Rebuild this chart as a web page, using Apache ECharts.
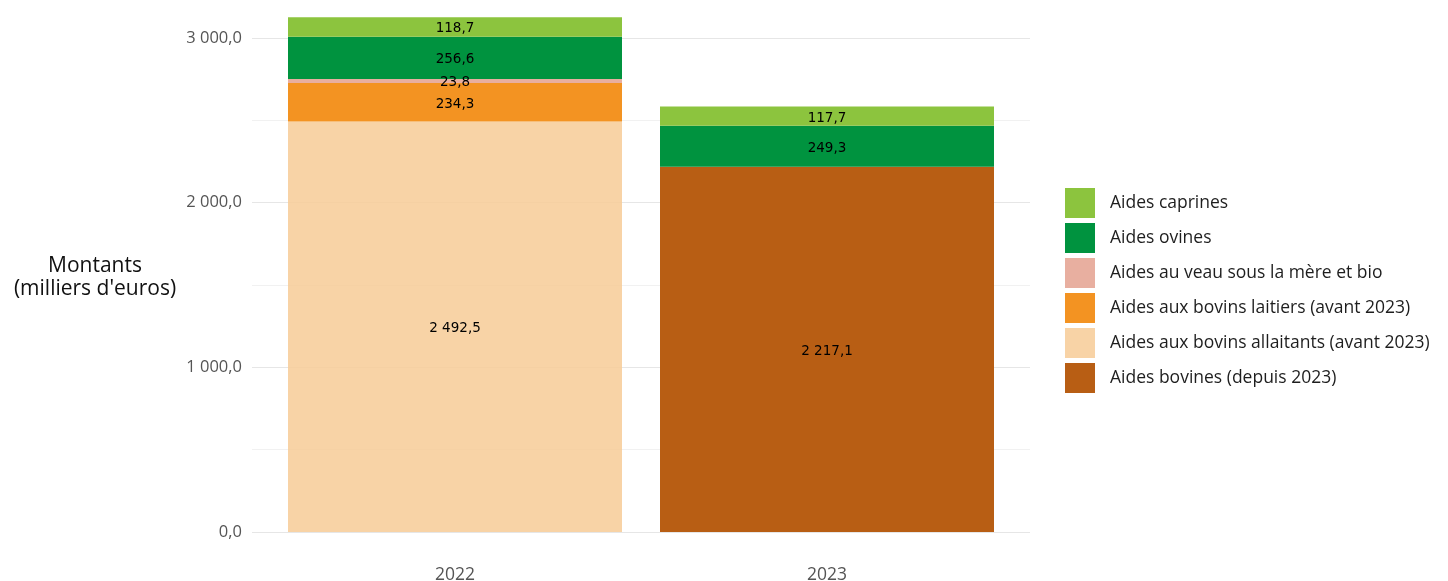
<!DOCTYPE html>
<html>
<head>
<meta charset="utf-8">
<script src="https://cdn.jsdelivr.net/npm/echarts@6/dist/echarts.min.js"></script>
<style>html,body{margin:0;padding:0;background:#fff}#c{width:1448px;height:581px}</style>
</head>
<body>
<div id="c"></div>
<script>
const categories = ['2022', '2023'];
const allaitants = [2492.5, null];
const bovines = [null, 2217.1];
const laitiers = [234.3, null];
const veau = [23.8, null];
const ovines = [256.6, 249.3];
const caprines = [118.7, 117.7];
const yTicks = [0, 1000, 2000, 3000];

function fmt(v) {
  const parts = Number(v).toFixed(1).split('.');
  const i = parts[0].replace(/\B(?=(\d{3})+(?!\d))/g, ' ');
  return i + ',' + parts[1];
}

const UI = '"Open Sans", Lato, sans-serif';
const MAJ = '#e6e6e6', MIN = '#f1f1f1';

function bar(name, data, color) {
  return {
    name: name, type: 'bar', stack: 'total', data: data,
    xAxisIndex: 1, yAxisIndex: 1, barWidth: 334,
    itemStyle: { color: color },
    label: {
      show: true, position: 'inside', color: '#000', offset: [0, 2],
      fontFamily: '"DejaVu Sans", sans-serif', fontSize: 13.5,
      formatter: p => (p.value == null ? '' : fmt(p.value))
    }
  };
}

const chart = echarts.init(document.getElementById('c'), null, { renderer: 'canvas' });
chart.setOption({
  animation: false,
  backgroundColor: '#fff',
  grid: [
    { left: 252, width: 778, top: 5, bottom: 49, containLabel: false, outerBoundsMode: 'none' },
    { left: 269, width: 744, top: 5, bottom: 49, containLabel: false, outerBoundsMode: 'none' }
  ],
  xAxis: [
    { gridIndex: 0, type: 'value', show: false, min: 0, max: 1 },
    {
      gridIndex: 1, type: 'category', data: categories,
      axisLine: { show: false }, axisTick: { show: false },
      axisLabel: { color: '#555', fontFamily: UI, fontSize: 17.5, margin: 34 }
    }
  ],
  yAxis: [
    {
      gridIndex: 0, type: 'value', min: 0, max: 3200, interval: 500,
      axisLine: { show: false }, axisTick: { show: false },
      axisLabel: {
        color: '#555', fontFamily: UI, fontSize: 16.5, margin: 10,
        formatter: v => (yTicks.indexOf(v) >= 0 ? fmt(v) : '')
      },
      splitLine: { show: true, lineStyle: { color: [MAJ, MIN, MAJ, MIN, MAJ, MIN, MAJ, 'rgba(0,0,0,0)'], width: 1.2 } }
    },
    { gridIndex: 1, type: 'value', min: 0, max: 3200, show: false, splitLine: { show: false } }
  ],
  legend: {
    orient: 'vertical', left: 1060, top: 183,
    itemWidth: 30, itemHeight: 30, itemGap: 5, icon: 'rect',
    data: ['Aides caprines', 'Aides ovines', 'Aides au veau sous la mère et bio',
           'Aides aux bovins laitiers (avant 2023)', 'Aides aux bovins allaitants (avant 2023)',
           'Aides bovines (depuis 2023)'],
    textStyle: { color: '#1e1e1e', fontFamily: UI, fontSize: 17.5, padding: [0, 0, 0, 10] }
  },
  graphic: [{
    type: 'text', x: 95, y: 278,
    style: {
      text: 'Montants\n(milliers d\'euros)', fill: '#111', font: '21px "Open Sans", sans-serif',
      align: 'center', verticalAlign: 'middle', lineHeight: 23
    }
  }],
  series: [
    bar('Aides aux bovins allaitants (avant 2023)', allaitants, 'rgba(247,203,150,0.85)'),
    bar('Aides bovines (depuis 2023)', bovines, '#B85E14'),
    bar('Aides aux bovins laitiers (avant 2023)', laitiers, '#F39322'),
    bar('Aides au veau sous la mère et bio', veau, '#E8AFA0'),
    bar('Aides ovines', ovines, '#00933F'),
    bar('Aides caprines', caprines, '#8CC43E')
  ]
});
</script>
</body>
</html>
